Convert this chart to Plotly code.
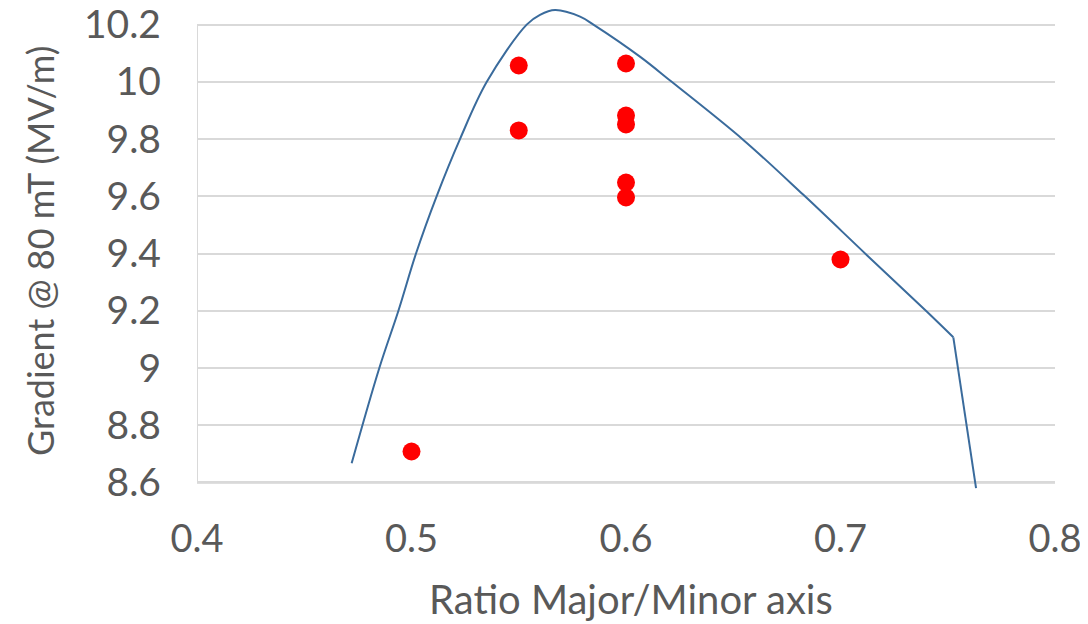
import plotly.graph_objects as go

# Measured points
ratio_pts = [0.5, 0.55, 0.55, 0.6, 0.6, 0.6, 0.6, 0.6, 0.7]
grad_pts = [8.708, 10.057, 9.83, 10.064, 9.882, 9.851, 9.648, 9.596, 9.379]

# Simulated curve (smooth part, then the final straight drop)
ratio_curve = [0.4721, 0.485, 0.4939, 0.5021, 0.5117, 0.5226, 0.5351, 0.5537,
               0.5599, 0.5669, 0.5786, 0.5848, 0.6065, 0.6213, 0.6547, 0.6827,
               0.7122, 0.7402, 0.7526]
grad_curve = [8.667, 9.0, 9.2, 9.4, 9.6, 9.8, 10.0, 10.2,
              10.234, 10.251, 10.228, 10.2, 10.088, 10.0, 9.797, 9.605,
              9.395, 9.197, 9.107]
ratio_tail = [0.7526, 0.7632]
grad_tail = [9.107, 8.58]

x_ticks = [0.4, 0.5, 0.6, 0.7, 0.8]
x_tick_text = ["0.4", "0.5", "0.6", "0.7", "0.8"]
y_ticks = [8.6, 8.8, 9.0, 9.2, 9.4, 9.6, 9.8, 10.0, 10.2]
y_tick_text = ["8.6", "8.8", "9", "9.2", "9.4", "9.6", "9.8", "10", "10.2"]

FONT = "Lato, 'Open Sans', sans-serif"
TXT = "#595959"
LINE = "#3A6B9C"

fig = go.Figure()
fig.add_trace(go.Scatter(x=ratio_curve, y=grad_curve, mode="lines",
                         line=dict(color=LINE, width=2, shape="spline", smoothing=1.0),
                         hoverinfo="skip", showlegend=False))
fig.add_trace(go.Scatter(x=ratio_tail, y=grad_tail, mode="lines",
                         line=dict(color=LINE, width=2),
                         hoverinfo="skip", showlegend=False))
fig.add_trace(go.Scatter(x=ratio_pts, y=grad_pts, mode="markers",
                         marker=dict(color="#FF0000", size=18), cliponaxis=False,
                         showlegend=False))

# axis lines
fig.add_shape(type="line", x0=0.4, x1=0.8, y0=8.6, y1=8.6, xref="x", yref="y",
              line=dict(color="#BFBFBF", width=2), layer="below")
fig.add_shape(type="line", x0=0.4, x1=0.4, y0=8.6, y1=10.2, xref="x", yref="y",
              line=dict(color="#D9D9D9", width=2), layer="below")

# axis titles
fig.add_annotation(text="Ratio Major/Minor axis", xref="paper", yref="paper",
                   x=0.506, y=0, xanchor="center", yanchor="middle", yshift=-108,
                   showarrow=False, font=dict(size=40, color=TXT, family=FONT))
fig.add_annotation(text="Gradient @ 80 mT (MV/m)", xref="paper", yref="paper",
                   x=0, y=0.497, xanchor="center", yanchor="middle", xshift=-157,
                   textangle=-90, showarrow=False,
                   font=dict(size=36, color=TXT, family=FONT))

fig.update_layout(
    width=1088, height=624,
    margin=dict(l=189, r=41, t=0, b=141, autoexpand=False),
    paper_bgcolor="white", plot_bgcolor="white",
    font=dict(family=FONT, color=TXT),
    xaxis=dict(range=[0.4, 0.8], tickvals=x_ticks, ticktext=x_tick_text,
               showgrid=False, zeroline=False, showline=False, automargin=False,
               tickfont=dict(size=38, color=TXT), ticks="",
               ticklabelstandoff=22, ticklabeloverflow="allow"),
    yaxis=dict(range=[8.57, 10.258], tickvals=y_ticks, ticktext=y_tick_text,
               showgrid=True, gridcolor="#D9D9D9", gridwidth=2, zeroline=False,
               showline=False, automargin=False, tickfont=dict(size=39, color=TXT), ticks="",
               ticklabelstandoff=35, ticklabeloverflow="allow"),
)

fig.write_html("out.html")
